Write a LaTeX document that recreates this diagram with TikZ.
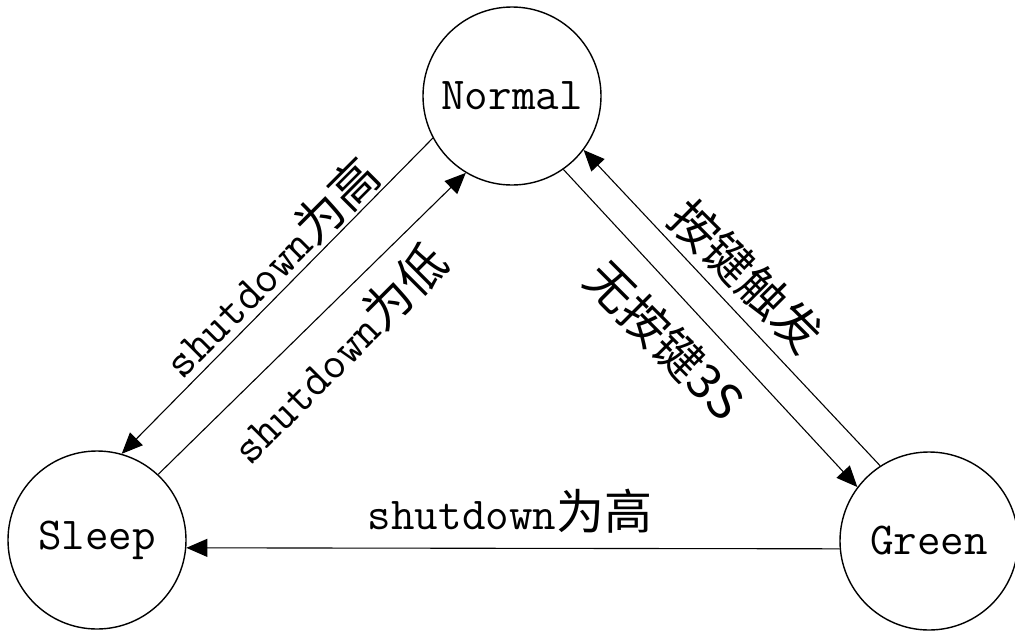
\documentclass[tikz,border=0pt]{standalone}
\usepackage{fontspec}
\newfontfamily\cjk[Scale=1.05]{Noto Sans CJK SC}
\usetikzlibrary{arrows.meta}
\newcommand\lblfont{\fontsize{45.7}{50}\selectfont\ttfamily}
\newcommand\zhtext[1]{{\cjk #1}}
\begin{document}
\begin{tikzpicture}[x=1pt,y=-1pt,
  state/.style={draw, circle, minimum size=178pt, inner sep=0pt, line width=1.4pt, font=\lblfont},
  trans/.style={line width=1.1pt, -{Triangle[length=21pt,width=18pt]}},
  lbl/.style={inner sep=0pt, font=\lblfont}]
\useasboundingbox (0,0) rectangle (1015,630);
\node[state] (Normal) at (512,96) {Normal};
\node[state] (Sleep) at (97,540) {Sleep};
\node[state] (Green) at (929,541) {Green};
\draw[trans] (Normal.208) -- (Sleep.74);
\draw[trans] (Sleep.47) -- (Normal.239);
\draw[trans] (Normal.305) -- (Green.143);
\draw[trans] (Green.123) -- (Normal.323);
\draw[trans] (Green.185) -- (Sleep.355);
\node[lbl, rotate=45] (l1) at (270,267) {shutdown\zhtext{为高}};
\node[lbl, rotate=45] (l2) at (338,353) {shutdown\zhtext{为低}};
\node[lbl, rotate=-45] (l3) at (746,276) {\zhtext{按键触发}};
\node[lbl, rotate=-45] (l4) at (665,340) {\zhtext{无按键3S}};
\node[lbl] (l5) at (510,511) {shutdown\zhtext{为高}};
\end{tikzpicture}
\end{document}
